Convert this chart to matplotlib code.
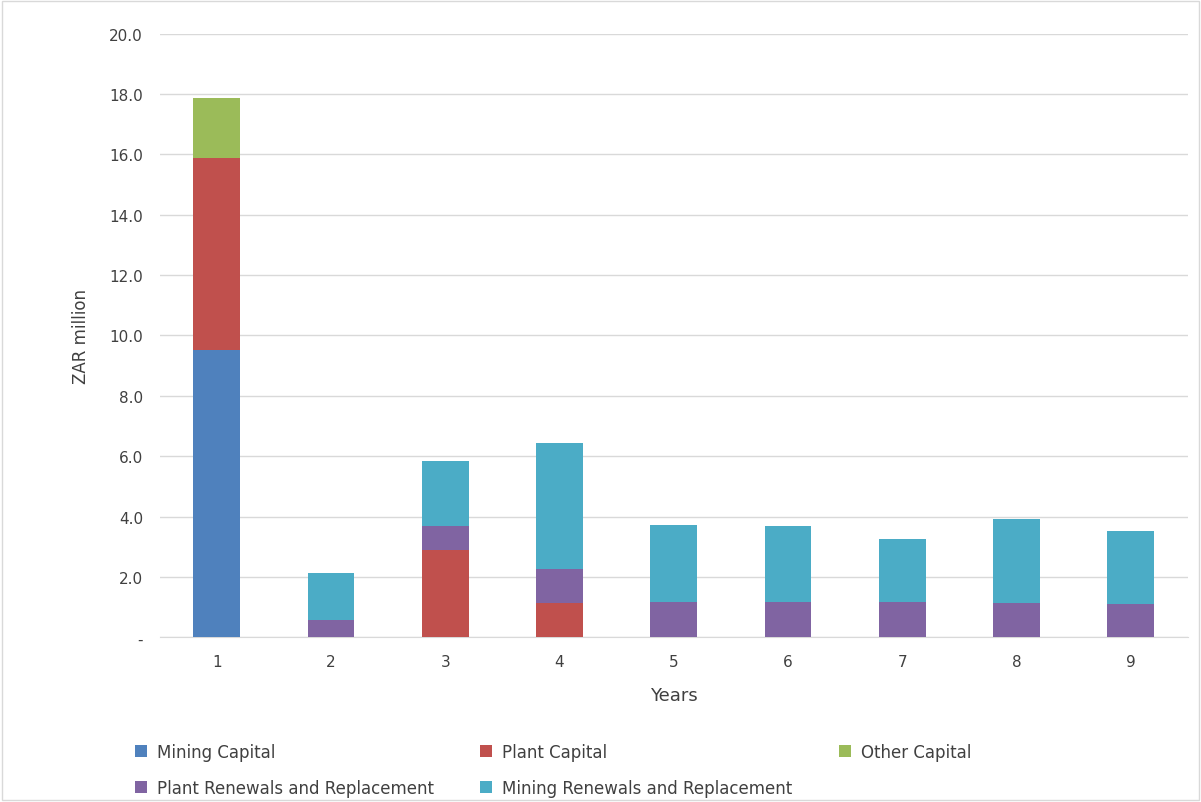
import matplotlib.pyplot as plt
import numpy as np

years = ['1', '2', '3', '4', '5', '6', '7', '8', '9']
mining_capital = [9.52, 0, 0, 0, 0, 0, 0, 0, 0]
plant_capital = [6.37, 0, 2.89, 1.13, 0, 0, 0, 0, 0]
other_capital = [1.99, 0, 0, 0, 0, 0, 0, 0, 0]
plant_renewals = [0, 0.56, 0.79, 1.13, 1.16, 1.16, 1.16, 1.13, 1.09]
mining_renewals = [0, 1.56, 2.16, 4.17, 2.55, 2.52, 2.09, 2.78, 2.43]

series = [
    ('Mining Capital', mining_capital, '#4f81bd'),
    ('Plant Capital', plant_capital, '#c0504d'),
    ('Other Capital', other_capital, '#9bbb59'),
    ('Plant Renewals and Replacement', plant_renewals, '#8064a2'),
    ('Mining Renewals and Replacement', mining_renewals, '#4bacc6'),
]

fig = plt.figure(figsize=(12.01, 8.03), dpi=100)
ax = fig.add_axes([0.133, 0.205, 0.856, 0.752])
x = np.arange(len(years))
bottom = np.zeros(len(years))
handles = []
for name, vals, color in series:
    h = ax.bar(x, vals, 0.41, bottom=bottom, color=color, label=name, zorder=3)
    handles.append(h)
    bottom += np.array(vals)

ax.set_xlim(-0.5, len(years) - 0.5)
ax.set_ylim(0, 20)
ax.set_yticks(np.arange(0, 21, 2))
ax.set_yticklabels(['-'] + [f'{v:.1f}' for v in np.arange(2, 21, 2)])
ax.set_xticks(x)
ax.set_xticklabels(years)
ax.grid(axis='y', color='#d9d9d9', linewidth=1, zorder=0)
for s in ['top', 'right', 'left']:
    ax.spines[s].set_visible(False)
ax.spines['bottom'].set_color('#d9d9d9')
ax.tick_params(length=0, labelsize=11, colors='#404040', pad=12)
ax.set_xlabel('Years', fontsize=13, color='#404040', labelpad=12)
ax.set_ylabel('ZAR million', fontsize=12, color='#404040', labelpad=14)

# legend filled row-wise like the original
order = [0, 3, 1, 4, 2]
fig.legend([handles[i] for i in order], [series[i][0] for i in order],
           loc='lower left', bbox_to_anchor=(0.1, -0.012), ncol=3, frameon=False,
           fontsize=12, labelcolor='#404040', handlelength=0.7, handleheight=0.7,
           columnspacing=2.8, handletextpad=0.6, labelspacing=1.05)
fig.patches.append(plt.Rectangle((0.002, 0.002), 0.996, 0.996, transform=fig.transFigure,
                                 fill=False, edgecolor='#d9d9d9', linewidth=1))
fig.savefig('out.png')
